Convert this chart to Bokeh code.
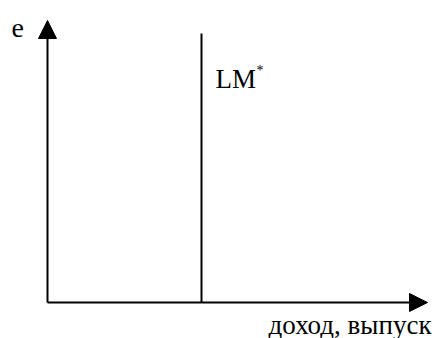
from bokeh.plotting import figure
from bokeh.models import Range1d, Arrow, NormalHead
from bokeh.core.properties import value
from bokeh.embed import file_html
from bokeh.resources import INLINE

# Schematic data (axis units)
output_axis_max = [380]       # length of the income/output axis
rate_axis_max = [282]         # length of the exchange-rate axis
lm_star_output = [154]        # vertical LM* curve position on output axis
lm_star_top = [269]           # top of LM* curve
y_label = ["e"]
x_label = ["доход, выпуск"]
curve_label = ["LM"]
curve_sup = ["*"]

p = figure(width=432, height=338, output_backend="svg", toolbar_location=None,
           x_range=Range1d(-47, 385), y_range=Range1d(-36, 302),
           min_border=0)
p.axis.visible = False
p.grid.visible = False
p.outline_line_color = None
p.background_fill_color = "white"
p.border_fill_color = "white"

font = value("Liberation Serif")

# axes with arrows
p.add_layout(Arrow(end=NormalHead(size=18, fill_color="black", line_color="black"),
                   x_start=0, y_start=0, x_end=0, y_end=rate_axis_max[0],
                   line_color="black", line_width=2))
p.add_layout(Arrow(end=NormalHead(size=18, fill_color="black", line_color="black"),
                   x_start=0, y_start=0, x_end=output_axis_max[0], y_end=0,
                   line_color="black", line_width=2))

# LM* vertical line
p.segment(x0=lm_star_output, y0=[0], x1=lm_star_output, y1=lm_star_top,
          line_color="black", line_width=2)

# labels
p.text(x=[-36], y=[rate_axis_max[0] - 7], text=y_label, text_font=font,
       text_font_size="28px", text_baseline="alphabetic", text_color="black")
p.text(x=[lm_star_output[0] + 14], y=[lm_star_top[0] - 45], text=curve_label,
       text_font=font, text_font_size="27px", text_baseline="alphabetic",
       text_color="black")
p.text(x=[lm_star_output[0] + 55], y=[lm_star_top[0] - 29], text=curve_sup,
       text_font=font, text_font_size="14px", text_baseline="top",
       text_color="black")
p.text(x=[output_axis_max[0] + 4], y=[-22], text=x_label, text_font=font,
       text_font_size="27px", text_baseline="alphabetic", text_align="right",
       text_color="black")

open("out.html", "w").write(file_html(p, INLINE))
